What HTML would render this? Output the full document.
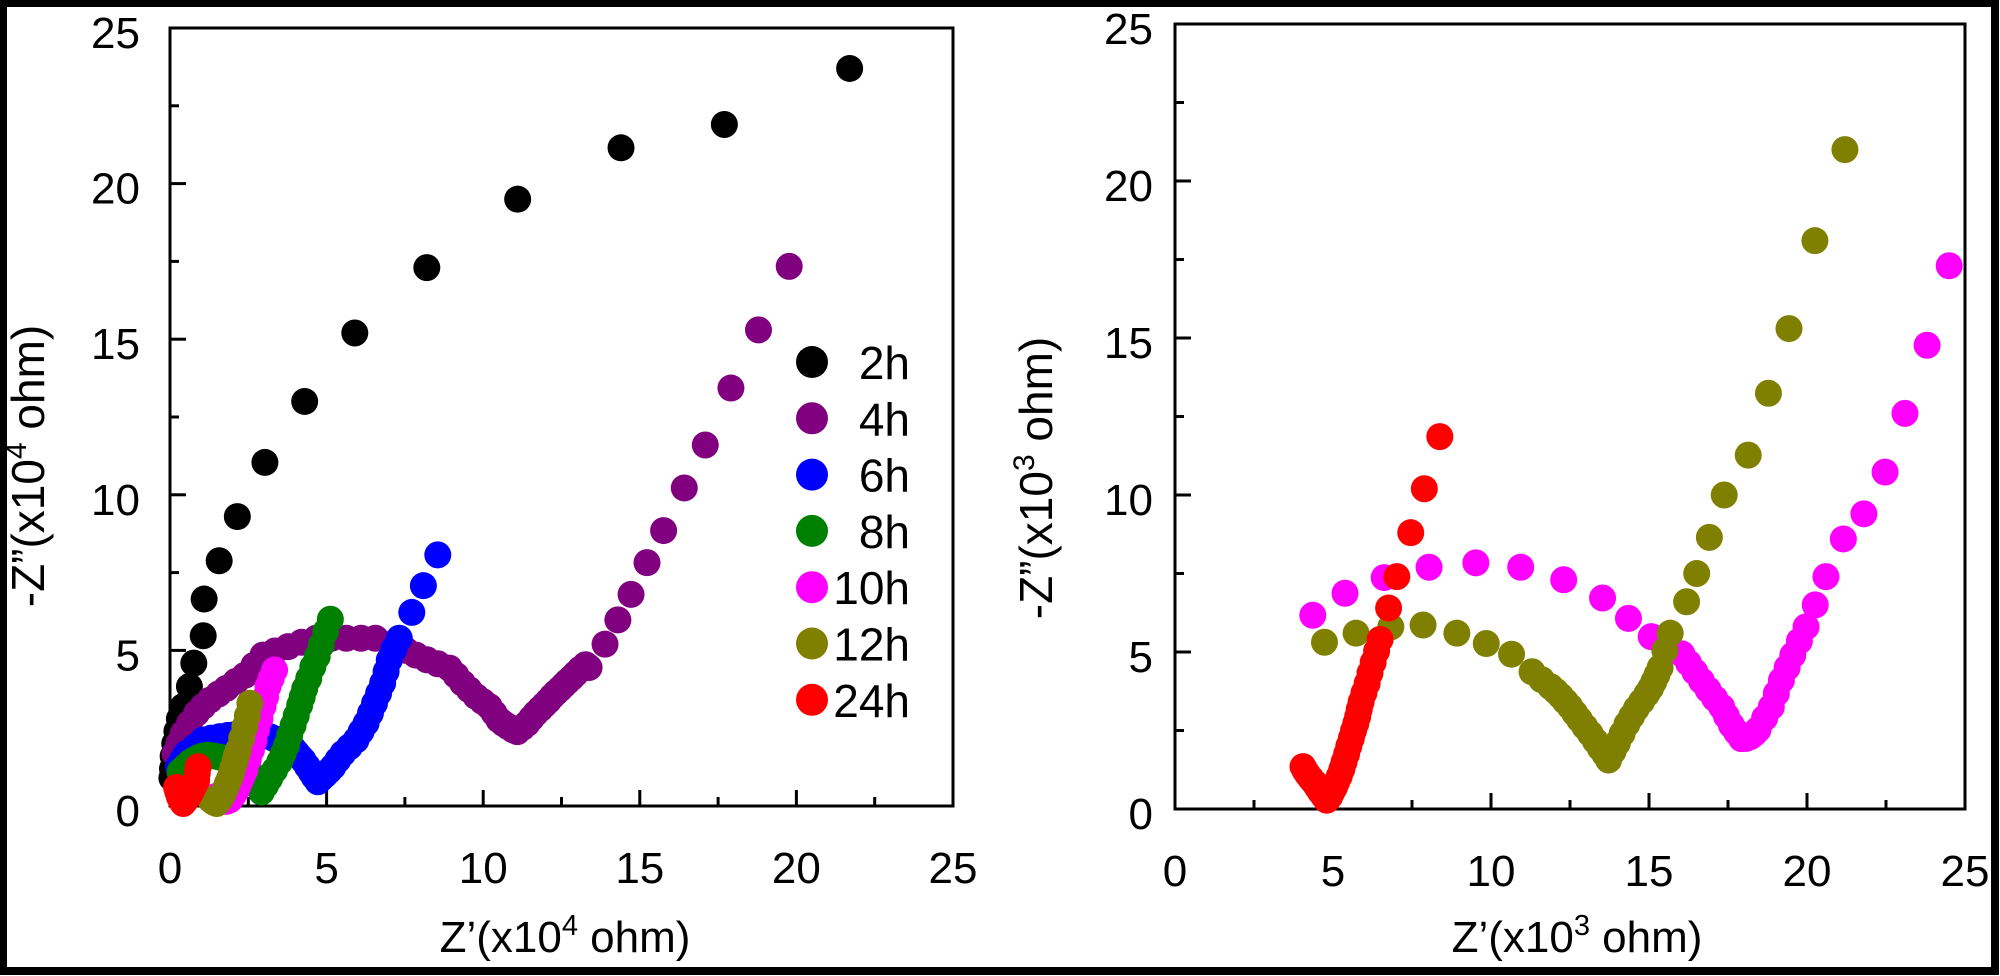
<!DOCTYPE html>
<html><head><meta charset="utf-8"><style>
html,body{margin:0;padding:0;background:#fff;}
svg{display:block;font-family:"Liberation Sans",Arial,sans-serif;}
</style></head><body>
<svg id="chart" width="2000" height="976" viewBox="0 0 2000 976" xmlns="http://www.w3.org/2000/svg">
<rect x="0" y="0" width="2000" height="976" fill="#fff"/>
<rect x="3" y="3" width="1992" height="968" fill="none" stroke="#000" stroke-width="8"/>
<g id="left"></g>
<g id="right"></g>
</svg>
<script>
const ticks = [0,5,10,15,20,25];
const seriesNames = ['2h','4h','6h','8h','10h','12h','24h'];
const seriesColors = ['#000000','#800080','#0000ff','#008000','#ff00ff','#808000','#ff0000'];

// Left panel (x10^4 ohm)
const L2hX=[21.7,17.7,14.4,11.1,8.2,5.9,4.3,3.03,2.15,1.57,1.09,1.06,0.76,0.62,0.42,0.3,0.22,0.15,0.1,0.08,0.06];
const L2hY=[23.7,21.9,21.15,19.5,17.3,15.2,13.0,11.04,9.3,7.88,6.65,5.47,4.59,3.84,3.2,2.8,2.4,2.0,1.6,1.2,0.9];
const L4hX=[19.77,18.79,17.91,17.09,16.42,15.76,15.23,14.72,14.3,13.89,13.38,13.27,13.1,12.95,12.82,12.69,12.57,12.45,12.32,12.2,12.08,11.95,11.82,11.68,11.54,11.4,11.25,11.09,10.95,10.8,10.65,10.5,10.35,10.19,9.98,9.77,9.55,9.34,9.13,8.92,8.55,8.2,7.85,7.54,7.05,6.56,6.1,5.63,5.15,4.67,4.2,3.77,3.35,2.97,2.68,2.39,2.1,1.8,1.55,1.27,1.05,0.85,0.62,0.42,0.28,0.16];
const L4hY=[17.34,15.3,13.43,11.6,10.22,8.85,7.82,6.8,5.98,5.2,4.45,4.54,4.4,4.25,4.12,4.0,3.88,3.76,3.64,3.52,3.38,3.25,3.12,2.98,2.82,2.65,2.52,2.39,2.45,2.55,2.65,2.77,2.98,3.2,3.36,3.52,3.74,3.95,4.2,4.43,4.57,4.7,4.85,5.0,5.2,5.39,5.39,5.39,5.39,5.39,5.26,5.12,4.98,4.85,4.52,4.2,4.0,3.78,3.6,3.4,3.2,2.98,2.65,2.33,2.0,1.69];
const L6hX=[8.55,8.09,7.72,7.32,7.15,7.0,6.9,6.79,6.66,6.53,6.4,6.26,6.1,5.94,5.73,5.52,5.36,5.2,5.08,4.95,4.83,4.72,4.6,4.5,4.38,4.25,4.15,4.05,3.94,3.82,3.66,3.5,3.34,3.18,3.0,2.85,2.7,2.55,2.32,2.1,1.85,1.59,1.32,1.06,0.8,0.53,0.4,0.27];
const L6hY=[8.07,7.08,6.22,5.39,5.04,4.69,4.32,3.95,3.62,3.3,2.98,2.66,2.39,2.12,1.9,1.69,1.48,1.26,1.13,1.0,0.89,0.78,0.94,1.1,1.28,1.47,1.58,1.7,1.83,1.96,2.03,2.1,2.16,2.23,2.27,2.3,2.32,2.33,2.32,2.3,2.27,2.23,2.18,2.12,1.9,1.69,1.48,1.26];
const L8hX=[5.12,4.97,4.83,4.7,4.56,4.43,4.3,4.22,4.14,4.03,3.93,3.82,3.72,3.61,3.5,3.34,3.18,3.05,2.92,2.75,2.55,2.38,2.2,2.0,1.8,1.62,1.45,1.3,1.17,1.03,0.9,0.77,0.64,0.48,0.32];
const L8hY=[6.0,5.6,5.17,4.8,4.47,4.1,3.77,3.5,3.24,2.9,2.59,2.27,1.95,1.68,1.42,1.15,0.88,0.66,0.45,0.78,1.1,1.22,1.35,1.44,1.52,1.56,1.6,1.62,1.63,1.6,1.55,1.48,1.4,1.25,1.1];
const L10hX=[3.34,3.23,3.13,3.05,2.97,2.87,2.76,2.68,2.6,2.5,2.39,2.32,2.25,2.18,2.12,2.02,1.91,1.8,1.7,1.58,1.45];
const L10hY=[4.37,4.1,3.84,3.5,3.2,2.8,2.45,2.1,1.8,1.5,1.16,1.0,0.83,0.67,0.51,0.35,0.2,0.15,0.15,0.2,0.3];
const L12hX=[2.55,2.47,2.39,2.29,2.18,2.12,2.07,2.01,1.96,1.9,1.83,1.77,1.7,1.6,1.49,1.4,1.3];
const L12hY=[3.3,2.9,2.55,2.18,1.8,1.61,1.42,1.23,1.05,0.88,0.72,0.56,0.4,0.22,0.08,0.12,0.2];
const L24hX=[0.9,0.87,0.85,0.8,0.75,0.7,0.64,0.58,0.52,0.47,0.42,0.36,0.3,0.25,0.21];
const L24hY=[1.26,1.05,0.83,0.72,0.62,0.51,0.4,0.3,0.22,0.15,0.08,0.18,0.3,0.45,0.6];

// Right panel (x10^3 ohm)
const R10hX=[4.36,5.38,6.62,8.04,9.52,10.94,12.3,13.53,14.35,15.07,15.6,16.04,16.25,16.45,16.66,16.87,17.08,17.3,17.45,17.61,17.77,17.93,18.07,18.2,18.33,18.45,18.66,18.87,19.03,19.19,19.37,19.55,19.76,19.97,20.26,20.6,21.15,21.8,22.47,23.1,23.8,24.5];
const R10hY=[6.17,6.87,7.37,7.7,7.84,7.7,7.3,6.72,6.07,5.49,5.2,4.94,4.65,4.37,4.08,3.8,3.52,3.25,2.96,2.67,2.45,2.24,2.25,2.3,2.4,2.53,2.9,3.25,3.68,4.1,4.5,4.9,5.35,5.8,6.5,7.4,8.6,9.4,10.73,12.6,14.77,17.3];
const R12hX=[4.73,5.73,6.83,7.85,8.92,9.85,10.65,11.3,11.6,11.88,12.05,12.2,12.35,12.5,12.65,12.8,12.97,13.14,13.3,13.45,13.6,13.72,13.86,14.0,14.15,14.3,14.45,14.6,14.77,14.93,15.05,15.15,15.25,15.35,15.5,15.67,16.19,16.51,16.91,17.38,18.14,18.78,19.43,20.25,21.2];
const R12hY=[5.31,5.6,5.8,5.86,5.6,5.27,4.93,4.37,4.12,3.9,3.75,3.6,3.43,3.26,3.05,2.85,2.62,2.4,2.17,1.95,1.75,1.56,1.83,2.1,2.4,2.7,2.95,3.2,3.43,3.66,3.85,4.05,4.27,4.5,5.05,5.6,6.6,7.5,8.65,10.0,11.27,13.24,15.3,18.1,21.0];
const R24hX=[8.38,7.89,7.46,7.02,6.76,6.49,6.38,6.27,6.17,6.08,5.98,5.89,5.83,5.78,5.72,5.65,5.58,5.5,5.43,5.35,5.28,5.2,5.12,5.05,4.97,4.9,4.85,4.8,4.7,4.6,4.5,4.4,4.3,4.2,4.12,4.05];
const R24hY=[11.86,10.2,8.8,7.4,6.4,5.4,5.03,4.67,4.33,4.0,3.7,3.41,3.17,2.94,2.72,2.5,2.25,2.0,1.75,1.5,1.27,1.05,0.87,0.7,0.55,0.4,0.34,0.28,0.42,0.55,0.7,0.85,0.97,1.1,1.22,1.35];

const leftSeries=[[L2hX,L2hY],[L4hX,L4hY],[L6hX,L6hY],[L8hX,L8hY],[L10hX,L10hY],[L12hX,L12hY],[L24hX,L24hY]];
const rightSeries=[[null,null],[null,null],[null,null],[null,null],[R10hX,R10hY],[R12hX,R12hY],[R24hX,R24hY]];

const NS='http://www.w3.org/2000/svg';
function mk(tag,attrs,parent){const e=document.createElementNS(NS,tag);for(const k in attrs)e.setAttribute(k,attrs[k]);parent.appendChild(e);return e;}

function panel(g,box,max,series,yLabRight,xTitleX,yTitleX,yTitleY,exp,prefix){
  const sx=v=>box.l+v/max*(box.r-box.l);
  const sy=v=>box.b-v/max*(box.b-box.t);
  const frame=mk('rect',{x:box.l,y:box.t,width:box.r-box.l,height:box.b-box.t,fill:'none',stroke:'#000','stroke-width':3},g);
  
  
  for(let v=2.5;v<max;v+=2.5){
    const major=(v%5===0);const len=major?16:9;
    const tx=mk('line',{x1:sx(v),x2:sx(v),y1:box.b,y2:box.b-len,stroke:'#000','stroke-width':3},g);
    
    
    const ty=mk('line',{x1:box.l,x2:box.l+len,y1:sy(v),y2:sy(v),stroke:'#000','stroke-width':3},g);
    
    
  }
  ticks.forEach(v=>{
    const t=mk('text',{x:sx(v),y:box.b+77,'font-size':44,'text-anchor':'middle',fill:'#000'},g);
    t.textContent=v;
    
    
    const u=mk('text',{x:yLabRight,y:sy(v)+20,'font-size':44,'text-anchor':'end',fill:'#000'},g);
    u.textContent=v;
    
    
  });
  const xt=mk('text',{x:xTitleX,y:952,'font-size':44,'text-anchor':'middle',fill:'#000'},g);
  
  
  xt.innerHTML='Z’(x10<tspan font-size="29" dy="-17">'+exp+'</tspan><tspan dy="17"> ohm)</tspan>';
  const yt=mk('text',{x:0,y:0,'font-size':46,'text-anchor':'middle',fill:'#000',transform:'translate('+yTitleX+','+yTitleY+') rotate(-90)'},g);
  
  
  yt.innerHTML='-Z”(x10<tspan font-size="30" dy="-18">'+exp+'</tspan><tspan dy="18"> ohm)</tspan>';
  series.forEach((s,i)=>{
    if(!s[0])return;
    const sg=mk('g',{},g);
    
    
    for(let k=0;k<s[0].length;k++){
      const c=mk('circle',{cx:sx(s[0][k]),cy:sy(s[1][k]),r:13.5,fill:seriesColors[i]},sg);
      
      
    }
  });
}
panel(document.getElementById('left'),{l:170,r:953,t:28,b:806},25,leftSeries,140,565,44,466,'4','left');
panel(document.getElementById('right'),{l:1175,r:1965,t:24,b:809},25,rightSeries,1153,1577,1052,478,'3','right');

const lg=document.getElementById('left');
const legend=mk('g',{},lg);


seriesNames.forEach((n,i)=>{
  const y=362+i*56.3;
  const e=mk('g',{},legend);
  
  
  mk('circle',{cx:812,cy:y,r:16,fill:seriesColors[i]},e);
  const t=mk('text',{x:910,y:y+17,'font-size':46,'text-anchor':'end',fill:'#000'},e);
  t.textContent=n;
});
</script>
</body></html>
